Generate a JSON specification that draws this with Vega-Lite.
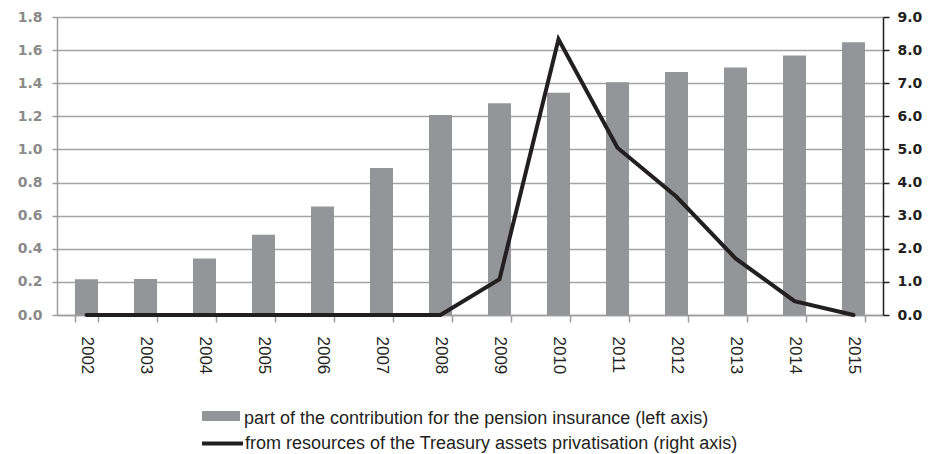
{
  "$schema": "https://vega.github.io/schema/vega-lite/v6.json",
  "width": 826,
  "height": 298,
  "autosize": {"type": "none"},
  "padding": {"left": 57, "top": 17, "right": 47, "bottom": 139},
  "background": "white",
  "config": {
    "view": {"stroke": null},
    "axis": {"labelFont": "DejaVu Sans", "labelFontWeight": "bold", "labelFontSize": 14}
  },
  "data": {
    "values": [
      {"year": "2002", "contribution": 0.216, "privatisation": 0},
      {"year": "2003", "contribution": 0.218, "privatisation": 0},
      {"year": "2004", "contribution": 0.342, "privatisation": 0},
      {"year": "2005", "contribution": 0.485, "privatisation": 0},
      {"year": "2006", "contribution": 0.655, "privatisation": 0},
      {"year": "2007", "contribution": 0.888, "privatisation": 0},
      {"year": "2008", "contribution": 1.208, "privatisation": 0},
      {"year": "2009", "contribution": 1.279, "privatisation": 1.08},
      {"year": "2010", "contribution": 1.343, "privatisation": 8.33},
      {"year": "2011", "contribution": 1.406, "privatisation": 5.05},
      {"year": "2012", "contribution": 1.468, "privatisation": 3.57},
      {"year": "2013", "contribution": 1.495, "privatisation": 1.71},
      {"year": "2014", "contribution": 1.567, "privatisation": 0.42},
      {"year": "2015", "contribution": 1.648, "privatisation": 0.0}
    ]
  },
  "encoding": {
    "x": {
      "field": "year",
      "type": "ordinal",
      "scale": {"paddingInner": 0.61, "paddingOuter": 0.305},
      "axis": {
        "title": null,
        "labelAngle": 90,
        "labelFont": "Liberation Sans",
        "labelFontWeight": "normal",
        "labelFontSize": 17,
        "labelColor": "#231f20",
        "labelPadding": 14,
        "tickBand": "extent",
        "tickSize": 7,
        "tickColor": "#9d9d9d",
        "tickWidth": 1.5,
        "domainColor": "#9d9d9d",
        "domainWidth": 1.5,
        "grid": false
      }
    }
  },
  "layer": [
    {
      "mark": {"type": "bar", "color": "#939598"},
      "encoding": {
        "y": {
          "field": "contribution",
          "type": "quantitative",
          "scale": {"domain": [0, 1.8], "nice": false},
          "axis": {
            "title": null,
            "orient": "left",
            "values": [0, 0.2, 0.4, 0.6, 0.8, 1.0, 1.2, 1.4, 1.6, 1.8],
            "format": ".1f",
            "labelColor": "#8a8a8a",
            "labelPadding": 10,
            "tickSize": 5,
            "tickColor": "#9d9d9d",
            "tickWidth": 1.5,
            "domainColor": "#9d9d9d",
            "domainWidth": 1.5,
            "grid": true,
            "gridColor": "#a3a3a3",
            "gridWidth": 1.5
          }
        },
        "fill": {
          "datum": "part of the contribution for the pension insurance (left axis)",
          "scale": {"range": ["#939598"]},
          "legend": {
            "title": null,
            "orient": "none",
            "legendX": 145,
            "legendY": 380,
            "padding": 0,
            "symbolType": "M-1,-0.26L1,-0.26L1,0.26L-1,0.26Z",
            "symbolSize": 1444,
            "symbolStrokeWidth": 0,
            "labelFont": "Liberation Sans",
            "labelFontSize": 18,
            "labelLimit": 0,
            "labelColor": "#231f20",
            "labelOffset": 4,
            "encode": {"labels": {"update": {"dy": {"value": 3}}}}
          }
        }
      }
    },
    {
      "mark": {"type": "line", "strokeWidth": 4, "strokeCap": "round", "strokeJoin": "miter"},
      "encoding": {
        "y": {
          "field": "privatisation",
          "type": "quantitative",
          "scale": {"domain": [0, 9], "nice": false},
          "axis": {
            "title": null,
            "orient": "right",
            "values": [0, 1, 2, 3, 4, 5, 6, 7, 8, 9],
            "format": ".1f",
            "labelColor": "#231f20",
            "labelPadding": 8,
            "tickSize": 6,
            "tickColor": "#231f20",
            "tickWidth": 1.5,
            "domainColor": "#231f20",
            "domainWidth": 1.5,
            "grid": false
          }
        },
        "stroke": {
          "datum": "from resources of the Treasury assets privatisation (right axis)",
          "scale": {"range": ["#231f20"]},
          "legend": {
            "title": null,
            "orient": "none",
            "legendX": 143,
            "legendY": 404,
            "padding": 0,
            "symbolType": "stroke",
            "symbolSize": 1681,
            "symbolStrokeWidth": 4,
            "labelFont": "Liberation Sans",
            "labelFontSize": 18,
            "labelLimit": 0,
            "labelColor": "#231f20",
            "labelOffset": 0,
            "encode": {
              "symbols": {"update": {"strokeWidth": {"value": 4}}},
              "labels": {"update": {"dy": {"value": 0}}}
            }
          }
        }
      }
    }
  ],
  "resolve": {"scale": {"y": "independent", "fill": "independent", "stroke": "independent"}}
}
